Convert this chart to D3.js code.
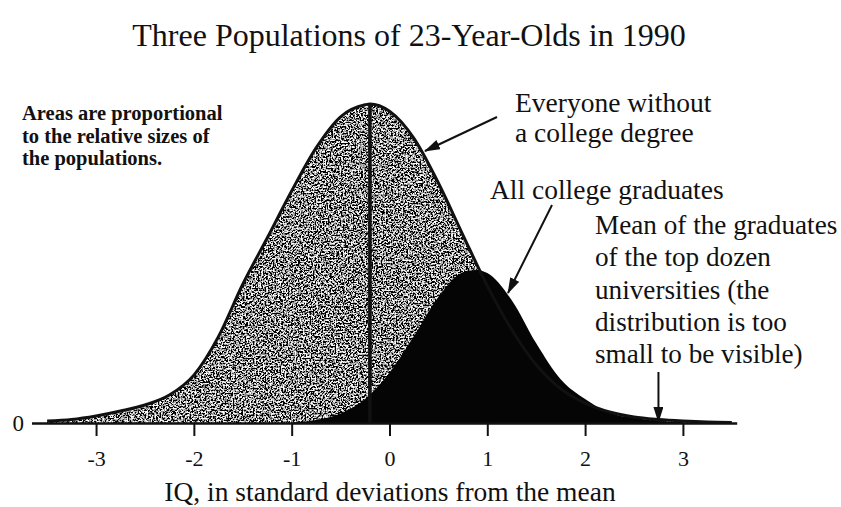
<!DOCTYPE html>
<html><head><meta charset="utf-8">
<script src="https://cdn.jsdelivr.net/npm/d3@7"></script>
<style>
body{margin:0;background:#fff}
svg{display:block}
text{font-family:"Liberation Serif","Times New Roman",serif;fill:#111}
</style>
</head><body>
<svg id="c" width="841" height="507"></svg>
<script>
// ---- data ----
const xTicks = [-3, -2, -1, 0, 1, 2, 3];
const yTicks = [0];
// Everyone without a college degree (relative density)
const noDegreeX = [-3.5,-3.25,-3,-2.75,-2.5,-2.25,-2,-1.75,-1.5,-1.25,-1,-0.75,-0.5,-0.25,-0.2,0,0.25,0.5,0.75,1,1.25,1.5,1.75,2,2.25,2.5,2.75,3,3.25,3.5];
const noDegreeY = [0.0025,0.0044,0.0088,0.015,0.0226,0.035,0.060,0.108,0.174,0.232,0.291,0.345,0.384,0.399,0.40,0.391,0.357,0.301,0.236,0.172,0.117,0.073,0.043,0.025,0.0138,0.0075,0.0044,0.0025,0.0012,0.0006];
// All college graduates (relative density)
const gradX = [-1,-0.75,-0.5,-0.25,0,0.25,0.5,0.75,0.9,1,1.25,1.5,1.75,2,2.25,2.5,2.75,3];
const gradY = [0.0006,0.0038,0.0118,0.030,0.063,0.109,0.158,0.189,0.192,0.188,0.154,0.100,0.055,0.030,0.0125,0.0063,0.0025,0.0008];
const noDegreeMean = -0.2;
const noDegreePeak = 0.40;
const topDozenMean = 2.75;

const title = "Three Populations of 23-Year-Olds in 1990";
const xTitle = "IQ, in standard deviations from the mean";
const noteLines = ["Areas are proportional", "to the relative sizes of", "the populations."];
const noDegreeLabel = ["Everyone without", "a college degree"];
const gradLabel = ["All college graduates"];
const topLabel = ["Mean of the graduates", "of the top dozen", "universities (the", "distribution is too", "small to be visible)"];

// ---- drawing ----
const svg = d3.select("#c");
const x = d3.scaleLinear().domain([-3.66, 3.55]).range([31.5, 736.7]);
const y = d3.scaleLinear().domain([0, 0.40]).range([423, 104]);

const defs = svg.append("defs");
const f = defs.append("filter").attr("id", "grain")
  .attr("x", 0).attr("y", 0).attr("width", 1).attr("height", 1);
f.append("feTurbulence").attr("type", "fractalNoise").attr("baseFrequency", 0.6)
  .attr("numOctaves", 4).attr("seed", 11).attr("result", "n");
f.append("feColorMatrix").attr("in", "n").attr("type", "matrix")
  .attr("values", "4.4 0 0 0 -1.92  4.4 0 0 0 -1.92  4.4 0 0 0 -1.92  0 0 0 0 1").attr("result", "g");
f.append("feComposite").attr("in", "g").attr("in2", "SourceGraphic").attr("operator", "in");

defs.append("marker").attr("id", "arr").attr("viewBox", "0 0 16 10")
  .attr("refX", 15).attr("refY", 5).attr("markerWidth", 16).attr("markerHeight", 10)
  .attr("markerUnits", "userSpaceOnUse").attr("orient", "auto")
  .append("path").attr("d", "M0,0 L16,5 L0,10 Z").attr("fill", "#111");

const noDeg = noDegreeX.map((v, i) => [v, noDegreeY[i]]);
const grad = gradX.map((v, i) => [v, gradY[i]]);

const area = d3.area().x(d => x(d[0])).y0(y(0)).y1(d => y(d[1])).curve(d3.curveMonotoneX);
const line = d3.line().x(d => x(d[0])).y(d => y(d[1])).curve(d3.curveMonotoneX);

svg.append("path").datum(noDeg).attr("d", area).attr("fill", "#888").attr("filter", "url(#grain)");
svg.append("path").datum(grad).attr("d", area).attr("fill", "#050505");
svg.append("path").datum(noDeg).attr("d", line).attr("fill", "none")
  .attr("stroke", "#111").attr("stroke-width", 3);
svg.append("line").attr("x1", x(noDegreeMean)).attr("x2", x(noDegreeMean))
  .attr("y1", y(noDegreePeak)).attr("y2", y(0)).attr("stroke", "#111").attr("stroke-width", 3.6);

// axis
const ax = svg.append("g").attr("transform", `translate(0,${y(0)})`)
  .call(d3.axisBottom(x).tickValues(xTicks).tickSize(13).tickSizeOuter(0).tickPadding(14).tickFormat(d => String(d)));
ax.select(".domain").attr("stroke", "#111").attr("stroke-width", 2.4);
ax.selectAll(".tick line").attr("stroke", "#111").attr("stroke-width", 2);
ax.selectAll(".tick text").attr("font-size", 22).attr("font-family", "Liberation Serif, serif").attr("fill", "#111");

svg.selectAll(".ylab").data(yTicks).join("text").attr("class", "ylab")
  .attr("x", 24).attr("y", d => y(d)).attr("dy", "0.35em").attr("text-anchor", "end")
  .attr("font-size", 23).text(d => d);

// texts
svg.append("text").attr("x", 409).attr("y", 46).attr("text-anchor", "middle")
  .attr("font-size", 32).text(title);
svg.append("text").attr("x", 390).attr("y", 501).attr("text-anchor", "middle")
  .attr("font-size", 27.5).text(xTitle);

svg.append("g").selectAll("text").data(noteLines).join("text")
  .attr("x", 22).attr("y", (d, i) => 120 + i * 22.5).attr("font-size", 20.5).attr("font-weight", "bold").text(d => d);
svg.append("g").selectAll("text").data(noDegreeLabel).join("text")
  .attr("x", 515).attr("y", (d, i) => 112 + i * 30).attr("font-size", 27.5).text(d => d);
svg.append("g").selectAll("text").data(gradLabel).join("text")
  .attr("x", 490).attr("y", 199).attr("font-size", 27.5).text(d => d);
svg.append("g").selectAll("text").data(topLabel).join("text")
  .attr("x", 595).attr("y", (d, i) => 234 + i * 32.3).attr("font-size", 27.2).text(d => d);

// arrows
svg.append("line").attr("x1", 497).attr("y1", 117).attr("x2", 425).attr("y2", 151)
  .attr("stroke", "#111").attr("stroke-width", 2).attr("marker-end", "url(#arr)");
svg.append("line").attr("x1", 552).attr("y1", 205).attr("x2", 508).attr("y2", 293)
  .attr("stroke", "#111").attr("stroke-width", 2).attr("marker-end", "url(#arr)");
svg.append("line").attr("x1", x(topDozenMean)).attr("y1", 372).attr("x2", x(topDozenMean)).attr("y2", y(0) - 1)
  .attr("stroke", "#111").attr("stroke-width", 2).attr("marker-end", "url(#arr)");
</script>
</body></html>
